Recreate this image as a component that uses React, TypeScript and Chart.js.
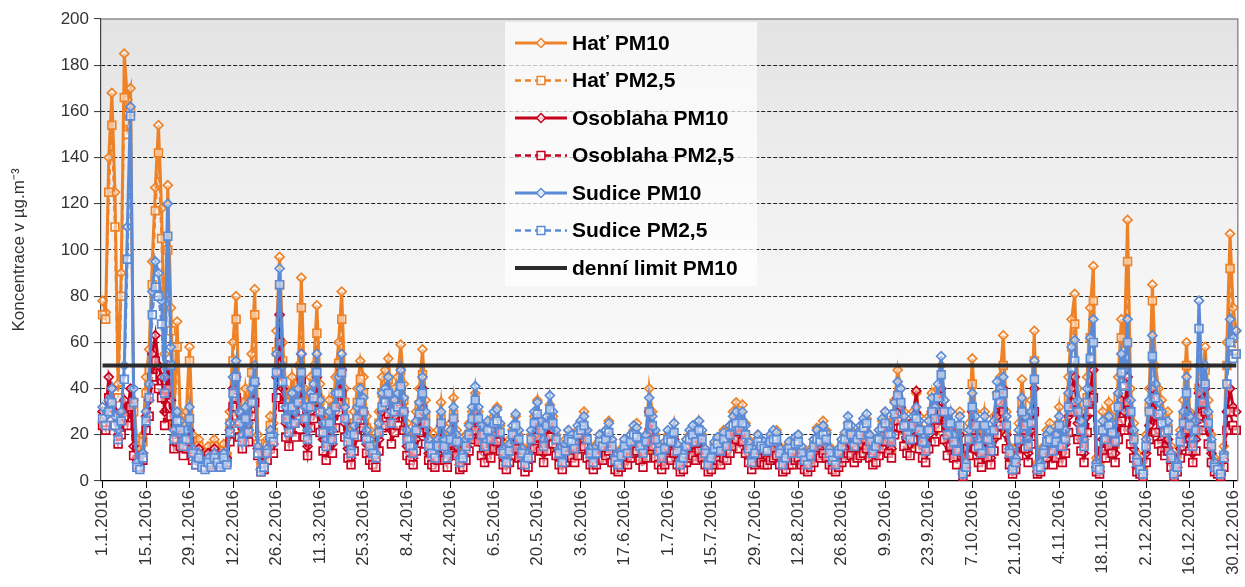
import React, { useEffect, useRef } from 'react';
import { Chart, registerables } from 'chart.js';

Chart.register(...registerables);

const FONT = "'Liberation Sans', Arial, Helvetica, sans-serif";

// ---- categories: every day of 2016 (labels d.m.yyyy) ----
const YEAR = 2016;
const dates: string[] = [];
for (let m = 0; m < 12; m++) {
  const days = new Date(YEAR, m + 1, 0).getDate();
  for (let d = 1; d <= days; d++) dates.push(`${d}.${m + 1}.${YEAR}`);
}
const labelEvery = 14; // a tick label every 14 days
const yMin = 0;
const yMax = 200;
const yStep = 20;
const limitPM10 = 50;

// ---- series (µg/m3), one value per day ----
const hatPM10 = [
  78, 73, 140, 168, 125, 42, 90, 185, 165, 170, 35, 18, 12, 20, 45, 57, 95, 127, 154, 118, 55, 128, 75, 28, 69, 30, 22, 30, 58, 20, 14,
  18, 12, 10, 15, 12, 18, 14, 10, 16, 12, 30, 60, 80, 35, 25, 40, 30, 55, 83, 20, 8, 10, 18, 28, 25, 65, 97, 60, 40,
  30, 45, 35, 50, 88, 40, 28, 45, 50, 76, 42, 30, 22, 35, 28, 45, 60, 82, 40, 25, 18, 30, 40, 52, 45, 28, 22, 18, 15, 30, 45,
  48, 53, 35, 40, 45, 59, 42, 25, 20, 18, 30, 40, 57, 35, 22, 18, 15, 22, 34, 20, 15, 25, 36, 22, 12, 15, 20, 25, 30, 38,
  30, 22, 18, 25, 20, 28, 32, 24, 15, 12, 18, 22, 28, 20, 15, 10, 14, 20, 28, 35, 25, 18, 25, 33, 28, 20, 15, 12, 18, 22, 20,
  18, 22, 26, 30, 22, 15, 12, 16, 20, 18, 22, 26, 18, 12, 10, 14, 18, 15, 20, 22, 25, 18, 14, 20, 40, 30, 20, 15, 12, 16,
  20, 18, 25, 15, 10, 12, 18, 20, 22, 18, 26, 20, 14, 10, 12, 16, 18, 15, 22, 18, 24, 30, 34, 28, 33, 25, 18, 12, 15, 20, 18,
  16, 14, 18, 20, 22, 15, 10, 12, 16, 14, 18, 20, 15, 12, 10, 14, 18, 23, 20, 26, 22, 15, 12, 10, 14, 18, 20, 25, 22, 18, 20,
  22, 25, 27, 20, 15, 18, 22, 26, 30, 25, 20, 35, 48, 40, 30, 25, 22, 30, 38, 28, 22, 18, 28, 38, 30, 40, 50, 35, 25, 30,
  22, 18, 30, 6, 10, 25, 53, 30, 20, 15, 30, 22, 18, 28, 38, 45, 63, 30, 15, 8, 12, 25, 44, 30, 20, 35, 65, 8, 10, 15, 22,
  25, 18, 22, 32, 20, 25, 45, 70, 81, 40, 30, 22, 45, 75, 93, 10, 8, 30, 25, 34, 28, 22, 45, 70, 60, 113, 40, 25, 12, 8,
  5, 20, 40, 85, 50, 40, 35, 28, 30, 15, 5, 10, 22, 35, 60, 30, 20, 28, 50, 45, 58, 35, 20, 10, 8, 5, 15, 60, 107, 75, 65,
];

const hatPM25 = [
  72, 70, 125, 154, 110, 36, 80, 166, 150, 160, 30, 15, 10, 17, 38, 48, 85, 117, 142, 105, 48, 100, 65, 24, 58, 26, 18, 25, 52, 17, 12,
  15, 10, 8, 12, 10, 15, 12, 8, 13, 10, 25, 52, 70, 30, 20, 34, 25, 47, 72, 16, 6, 8, 15, 24, 21, 56, 85, 52, 34,
  25, 38, 30, 42, 75, 34, 23, 38, 42, 64, 35, 25, 18, 29, 23, 38, 51, 70, 34, 21, 15, 25, 34, 44, 38, 23, 18, 15, 12, 25, 38,
  40, 44, 29, 33, 37, 48, 35, 20, 16, 14, 24, 33, 46, 28, 18, 14, 12, 18, 27, 16, 12, 20, 29, 17, 9, 12, 16, 20, 24, 30,
  24, 17, 14, 19, 15, 21, 25, 18, 11, 9, 13, 17, 21, 15, 11, 7, 10, 15, 21, 27, 19, 13, 19, 25, 21, 15, 11, 9, 13, 17, 15,
  13, 16, 19, 22, 16, 11, 8, 12, 14, 13, 16, 19, 13, 9, 7, 10, 13, 11, 14, 16, 18, 13, 10, 14, 30, 22, 14, 11, 9, 12,
  14, 13, 18, 11, 7, 9, 13, 14, 16, 13, 19, 14, 10, 7, 9, 11, 13, 11, 16, 13, 17, 22, 25, 20, 24, 18, 13, 8, 11, 14, 13,
  11, 10, 13, 14, 16, 11, 7, 9, 11, 10, 13, 14, 11, 8, 7, 10, 13, 17, 14, 19, 16, 11, 8, 7, 10, 13, 14, 18, 16, 13, 14,
  16, 18, 20, 14, 11, 13, 16, 19, 22, 18, 14, 26, 36, 30, 22, 18, 16, 22, 28, 20, 16, 13, 20, 28, 22, 30, 38, 26, 18, 22,
  16, 13, 22, 4, 7, 18, 42, 22, 14, 11, 22, 16, 13, 20, 28, 34, 50, 22, 11, 6, 9, 18, 34, 22, 14, 26, 52, 6, 7, 11, 16,
  19, 13, 16, 24, 15, 19, 36, 58, 68, 30, 22, 16, 36, 62, 78, 7, 6, 22, 19, 26, 21, 16, 36, 62, 50, 95, 30, 19, 9, 6,
  4, 15, 32, 78, 40, 32, 28, 21, 23, 11, 4, 7, 17, 28, 50, 23, 15, 21, 40, 36, 48, 27, 15, 7, 6, 4, 11, 50, 92, 62, 55,
];

const osoblahaPM10 = [
  30, 28, 45, 40, 30, 20, 25, 35, 30, 40, 15, 10, 8, 12, 28, 35, 55, 63, 50, 45, 30, 50, 35, 18, 22, 20, 15, 18, 22, 12, 9,
  14, 10, 8, 12, 9, 14, 11, 8, 12, 10, 22, 40, 45, 25, 18, 28, 22, 35, 42, 14, 5, 7, 12, 18, 16, 45, 72, 40, 25,
  20, 32, 25, 35, 55, 25, 15, 30, 35, 45, 28, 18, 12, 22, 16, 30, 38, 48, 25, 14, 10, 18, 25, 32, 30, 16, 12, 10, 9, 18, 30,
  32, 38, 22, 28, 32, 40, 30, 15, 12, 10, 18, 28, 40, 22, 12, 10, 8, 12, 24, 13, 9, 16, 26, 15, 7, 9, 13, 18, 24, 30,
  24, 16, 12, 18, 14, 20, 24, 18, 10, 7, 12, 16, 20, 14, 10, 6, 9, 14, 20, 26, 18, 12, 18, 26, 22, 15, 10, 7, 12, 16, 14,
  12, 16, 20, 22, 15, 10, 7, 11, 14, 13, 16, 19, 12, 8, 6, 9, 13, 10, 15, 17, 19, 13, 9, 14, 30, 22, 15, 10, 8, 11,
  14, 13, 18, 10, 6, 8, 12, 15, 16, 13, 19, 14, 10, 6, 8, 11, 13, 10, 15, 13, 18, 22, 26, 20, 24, 18, 12, 7, 10, 14, 12,
  11, 10, 13, 14, 16, 10, 6, 8, 11, 10, 13, 14, 10, 8, 6, 9, 12, 16, 14, 18, 15, 10, 8, 6, 9, 12, 14, 18, 16, 12, 14,
  16, 18, 20, 14, 10, 12, 16, 20, 24, 18, 14, 28, 36, 32, 22, 18, 16, 26, 39, 20, 15, 12, 20, 30, 24, 32, 40, 26, 16, 22,
  14, 10, 20, 3, 6, 16, 30, 20, 12, 9, 18, 14, 10, 18, 28, 32, 40, 20, 10, 4, 7, 16, 30, 20, 12, 22, 40, 4, 6, 10, 14,
  16, 10, 14, 20, 12, 16, 28, 40, 45, 25, 18, 12, 28, 40, 48, 6, 4, 18, 14, 20, 16, 12, 25, 35, 30, 45, 22, 14, 6, 4,
  3, 12, 24, 40, 28, 22, 18, 15, 18, 8, 3, 6, 14, 20, 30, 18, 12, 18, 38, 30, 40, 22, 12, 6, 4, 3, 9, 30, 40, 32, 30,
];

const osoblahaPM25 = [
  24, 22, 36, 32, 24, 16, 20, 28, 24, 32, 11, 7, 6, 9, 22, 28, 45, 52, 40, 36, 24, 40, 28, 14, 17, 15, 11, 14, 17, 9, 7,
  11, 8, 6, 9, 7, 11, 8, 6, 9, 8, 17, 32, 36, 19, 14, 22, 17, 28, 34, 11, 4, 5, 9, 14, 12, 36, 60, 32, 19,
  15, 25, 19, 27, 44, 19, 11, 23, 27, 36, 21, 13, 9, 17, 12, 23, 30, 38, 19, 10, 7, 13, 19, 25, 23, 12, 9, 7, 6, 13, 23,
  24, 29, 16, 21, 24, 31, 22, 11, 9, 7, 13, 21, 31, 16, 9, 7, 6, 9, 18, 9, 6, 12, 19, 11, 5, 6, 9, 13, 18, 22,
  17, 11, 8, 13, 10, 14, 17, 13, 7, 5, 8, 11, 14, 10, 7, 4, 6, 10, 14, 19, 13, 8, 13, 19, 16, 11, 7, 5, 8, 11, 10,
  8, 11, 14, 15, 10, 7, 5, 7, 10, 9, 11, 13, 8, 5, 4, 6, 9, 7, 10, 12, 13, 9, 6, 10, 21, 15, 10, 7, 5, 7,
  10, 9, 12, 7, 4, 5, 8, 10, 11, 9, 13, 10, 7, 4, 5, 7, 9, 7, 10, 9, 12, 15, 18, 14, 17, 12, 8, 5, 7, 10, 8,
  7, 7, 9, 10, 11, 7, 4, 5, 7, 7, 9, 10, 7, 5, 4, 6, 8, 11, 10, 12, 10, 7, 5, 4, 6, 8, 10, 12, 11, 8, 10,
  11, 12, 14, 10, 7, 8, 11, 14, 17, 12, 10, 20, 26, 23, 15, 12, 11, 18, 28, 14, 10, 8, 14, 22, 17, 23, 30, 18, 11, 15,
  10, 7, 14, 2, 4, 11, 22, 14, 8, 6, 13, 10, 7, 13, 20, 24, 30, 14, 7, 3, 5, 11, 22, 14, 8, 16, 30, 3, 4, 7, 10,
  12, 7, 10, 15, 8, 12, 21, 30, 34, 18, 13, 8, 21, 30, 36, 4, 3, 13, 10, 15, 12, 8, 18, 26, 22, 34, 16, 10, 4, 3,
  2, 8, 18, 30, 21, 16, 13, 11, 13, 6, 2, 4, 10, 15, 22, 13, 8, 13, 28, 22, 30, 16, 8, 4, 3, 2, 6, 22, 30, 24, 22,
];

const sudicePM10 = [
  32, 28, 35, 40, 28, 22, 30, 50, 110, 162, 40, 8, 6, 12, 30, 42, 82, 95, 90, 78, 45, 120, 58, 22, 30, 26, 18, 22, 32, 14, 9,
  12, 8, 6, 10, 8, 12, 10, 7, 12, 9, 25, 45, 52, 30, 20, 32, 25, 40, 50, 15, 5, 7, 14, 22, 20, 55, 92, 50, 32,
  25, 38, 30, 40, 55, 32, 22, 38, 42, 55, 35, 25, 18, 30, 22, 38, 45, 55, 32, 20, 14, 24, 32, 40, 36, 22, 18, 14, 12, 25, 38,
  40, 45, 30, 35, 38, 48, 36, 22, 18, 15, 26, 34, 45, 30, 18, 15, 12, 18, 30, 18, 12, 22, 32, 20, 10, 12, 18, 24, 32, 41,
  32, 24, 18, 26, 22, 30, 31, 25, 14, 10, 16, 24, 29, 22, 14, 9, 12, 22, 30, 34, 26, 18, 28, 37, 30, 22, 14, 10, 16, 22, 20,
  17, 24, 26, 28, 22, 14, 10, 15, 20, 18, 22, 25, 18, 11, 9, 13, 18, 15, 20, 24, 23, 18, 14, 20, 36, 28, 22, 16, 12, 17,
  22, 20, 25, 16, 9, 12, 18, 22, 24, 20, 26, 22, 14, 9, 12, 17, 19, 16, 21, 18, 24, 28, 30, 26, 30, 24, 17, 10, 14, 20, 18,
  17, 16, 20, 22, 21, 14, 9, 12, 17, 15, 19, 20, 15, 11, 9, 13, 18, 22, 20, 24, 21, 14, 11, 9, 14, 18, 21, 28, 24, 18, 21,
  24, 27, 29, 20, 14, 18, 22, 27, 30, 24, 20, 34, 43, 40, 28, 24, 22, 28, 32, 26, 20, 16, 26, 36, 32, 42, 54, 35, 24, 30,
  20, 16, 28, 4, 8, 22, 38, 28, 18, 14, 28, 22, 16, 26, 43, 40, 45, 28, 14, 6, 10, 22, 36, 28, 18, 30, 52, 6, 8, 14, 20,
  22, 16, 20, 28, 18, 22, 38, 58, 61, 35, 26, 18, 40, 62, 70, 8, 6, 26, 22, 28, 25, 20, 38, 55, 48, 70, 35, 22, 10, 6,
  4, 18, 35, 63, 42, 34, 30, 25, 26, 12, 4, 8, 20, 30, 45, 28, 18, 26, 78, 40, 50, 30, 18, 8, 6, 4, 12, 50, 70, 62, 65,
];

const sudicePM25 = [
  27, 24, 30, 34, 24, 18, 26, 44, 96, 158, 34, 6, 5, 10, 26, 36, 72, 84, 80, 68, 38, 106, 50, 18, 26, 22, 15, 18, 27, 12, 7,
  10, 6, 5, 8, 6, 10, 8, 6, 10, 7, 21, 38, 45, 25, 17, 27, 21, 34, 43, 12, 4, 6, 12, 19, 17, 47, 85, 43, 27,
  21, 32, 25, 34, 47, 27, 18, 32, 36, 47, 30, 21, 15, 25, 18, 32, 38, 47, 27, 17, 12, 20, 27, 34, 30, 18, 15, 12, 10, 21, 32,
  34, 38, 25, 30, 32, 41, 30, 18, 15, 12, 22, 29, 38, 25, 15, 12, 10, 15, 25, 15, 10, 18, 27, 17, 8, 10, 15, 20, 27, 35,
  27, 20, 15, 22, 18, 25, 26, 21, 12, 8, 13, 20, 24, 18, 12, 7, 10, 18, 25, 29, 22, 15, 24, 31, 25, 18, 12, 8, 13, 18, 17,
  14, 20, 22, 24, 18, 12, 8, 12, 17, 15, 18, 21, 15, 9, 7, 11, 15, 12, 17, 20, 19, 15, 12, 17, 30, 24, 18, 13, 10, 14,
  18, 17, 21, 13, 7, 10, 15, 18, 20, 17, 22, 18, 12, 7, 10, 14, 16, 13, 18, 15, 20, 24, 25, 22, 25, 20, 14, 8, 12, 17, 15,
  14, 13, 17, 18, 18, 12, 7, 10, 14, 12, 16, 17, 12, 9, 7, 11, 15, 18, 17, 20, 18, 12, 9, 7, 12, 15, 18, 24, 20, 15, 18,
  20, 23, 25, 17, 12, 15, 18, 23, 25, 20, 17, 29, 37, 34, 24, 20, 18, 24, 27, 22, 17, 13, 22, 30, 27, 36, 46, 30, 20, 25,
  17, 13, 24, 3, 6, 18, 32, 24, 15, 12, 24, 18, 13, 22, 37, 34, 38, 24, 12, 5, 8, 18, 30, 24, 15, 25, 44, 5, 6, 12, 17,
  18, 13, 17, 24, 15, 18, 32, 49, 52, 30, 22, 15, 34, 53, 60, 6, 5, 22, 18, 24, 21, 17, 32, 47, 41, 60, 30, 18, 8, 5,
  3, 15, 30, 54, 36, 29, 25, 21, 22, 10, 3, 6, 17, 25, 38, 24, 15, 22, 66, 34, 42, 25, 15, 6, 5, 3, 10, 42, 60, 53, 55,
];

const ORANGE = '#EE8228';
const RED = '#C8001E';
const BLUE = '#5B8BD6';

function series(label: string, data: number[], color: string, dashed: boolean, order: number) {
  return {
    label,
    data,
    borderColor: color,
    backgroundColor: color,
    borderWidth: dashed ? 2.4 : 3,
    borderDash: dashed ? [6, 4] : [],
    pointStyle: dashed ? 'rect' : 'rectRot',
    pointRadius: dashed ? 5.5 : 4.5,
    pointBorderWidth: 1.7,
    pointBorderColor: color,
    pointBackgroundColor: 'rgba(255,255,255,0.5)',
    tension: 0,
    fill: false,
    order,
  };
}

const bgPlugin = {
  id: 'plotBg',
  beforeDraw(chart: any) {
    const { ctx, chartArea: a } = chart;
    const g = ctx.createLinearGradient(0, a.top, 0, a.bottom);
    g.addColorStop(0, '#e3e3e3');
    g.addColorStop(0.6, '#f6f6f6');
    g.addColorStop(1, '#ffffff');
    ctx.save();
    ctx.fillStyle = g;
    ctx.fillRect(a.left, a.top, a.right - a.left, a.bottom - a.top);
    ctx.restore();
  },
};

function drawMarker(ctx: any, style: string, x: number, y: number, r: number, color: string) {
  ctx.save();
  ctx.setLineDash([]);
  ctx.lineWidth = 1.5;
  ctx.strokeStyle = color;
  ctx.fillStyle = 'rgba(255,255,255,0.8)';
  ctx.beginPath();
  if (style === 'rectRot') {
    ctx.moveTo(x, y - r);
    ctx.lineTo(x + r, y);
    ctx.lineTo(x, y + r);
    ctx.lineTo(x - r, y);
    ctx.closePath();
  } else {
    const s = r * Math.SQRT1_2;
    ctx.rect(x - s, y - s, 2 * s, 2 * s);
  }
  ctx.fill();
  ctx.stroke();
  ctx.restore();
}

const frameLegendPlugin = {
  id: 'frameLegend',
  afterDraw(chart: any) {
    const { ctx, chartArea: a } = chart;
    ctx.save();
    // plot frame (top and right)
    ctx.strokeStyle = '#8f8f8f';
    ctx.lineWidth = 1.5;
    ctx.beginPath();
    ctx.moveTo(a.left, a.top);
    ctx.lineTo(a.right, a.top);
    ctx.lineTo(a.right, a.bottom);
    ctx.stroke();

    // legend
    const x0 = a.left + 404;
    const y0 = a.top + 3;
    const w = 252;
    const h = 264;
    ctx.fillStyle = 'rgba(255,255,255,0.72)';
    ctx.fillRect(x0, y0, w, h);
    chart.data.datasets.forEach((ds: any, i: number) => {
      const cy = a.top + 24 + i * 37.5;
      const lx1 = x0 + 10;
      const lx2 = x0 + 62;
      ctx.save();
      ctx.strokeStyle = ds.borderColor;
      ctx.lineWidth = ds.borderWidth;
      ctx.setLineDash(ds.borderDash || []);
      ctx.beginPath();
      ctx.moveTo(lx1, cy);
      ctx.lineTo(lx2, cy);
      ctx.stroke();
      ctx.restore();
      if (ds.pointRadius > 0) drawMarker(ctx, ds.pointStyle, (lx1 + lx2) / 2, cy, ds.pointRadius, ds.borderColor);
      ctx.fillStyle = '#000';
      ctx.font = `bold 21px ${FONT}`;
      ctx.textAlign = 'left';
      ctx.textBaseline = 'middle';
      ctx.fillText(ds.label, x0 + 67, cy + 1);
    });
    ctx.restore();
  },
};

export default function App() {
  const ref = useRef<HTMLCanvasElement | null>(null);

  useEffect(() => {
    if (!ref.current) return;
    const datasets: any[] = [
      series('Hať PM10', hatPM10, ORANGE, false, 7),
      series('Hať PM2,5', hatPM25, ORANGE, true, 6),
      series('Osoblaha PM10', osoblahaPM10, RED, false, 5),
      series('Osoblaha PM2,5', osoblahaPM25, RED, true, 4),
      series('Sudice PM10', sudicePM10, BLUE, false, 3),
      series('Sudice PM2,5', sudicePM25, BLUE, true, 2),
      {
        label: 'denní limit PM10',
        data: [
          { x: dates[0], y: limitPM10 },
          { x: dates[dates.length - 1], y: limitPM10 },
        ],
        borderColor: '#2b2b2b',
        backgroundColor: '#2b2b2b',
        borderWidth: 4,
        borderDash: [],
        pointRadius: 0,
        order: 1,
      },
    ];

    const chart = new Chart(ref.current, {
      type: 'line',
      data: { labels: dates, datasets },
      plugins: [bgPlugin, frameLegendPlugin],
      options: {
        responsive: true,
        maintainAspectRatio: false,
        animation: false,
        layout: { padding: { top: 19, right: 2, left: 0, bottom: 0 } },
        plugins: {
          legend: { display: false },
          tooltip: { enabled: false },
        },
        scales: {
          x: {
            type: 'category',
            offset: true,
            grid: {
              drawOnChartArea: false,
              drawTicks: true,
              tickLength: 7,
              color: '#000',
              tickColor: '#000',
              offset: false,
            },
            border: { color: '#000', width: 1.2 },
            ticks: {
              autoSkip: false,
              maxRotation: 90,
              minRotation: 90,
              padding: 2,
              color: '#333',
              font: { family: FONT, size: 17 },
            },
            afterBuildTicks: (s: any) => {
              s.ticks = s.ticks.filter((t: any) => t.value % labelEvery === 0);
            },
            afterFit: (s: any) => {
              s.height = 106;
              s.paddingLeft = 0;
              s.paddingRight = 0;
            },
          },
          y: {
            min: yMin,
            max: yMax,
            ticks: {
              stepSize: yStep,
              padding: 5,
              color: '#333',
              font: { family: FONT, size: 17 },
            },
            grid: {
              color: (c: any) =>
                c.tick && (c.tick.value === yMin || c.tick.value === yMax) ? 'rgba(0,0,0,0)' : '#222',
              tickColor: '#444',
              lineWidth: 1.1,
              tickLength: 7,
            },
            border: { color: '#444', width: 1.2, dash: [4, 2] },
            title: {
              display: true,
              text: 'Koncentrace v µg.m⁻³',
              color: '#333',
              font: { family: FONT, size: 17 },
              padding: { top: 9, bottom: 0 },
            },
            afterFit: (s: any) => {
              s.width = 101;
            },
          },
        },
      } as any,
    });
    return () => chart.destroy();
  }, []);

  return (
    <div style={{ position: 'fixed', left: 0, top: 0, width: 1245, height: 587, background: '#fff' }}>
      <canvas ref={ref} />
    </div>
  );
}
